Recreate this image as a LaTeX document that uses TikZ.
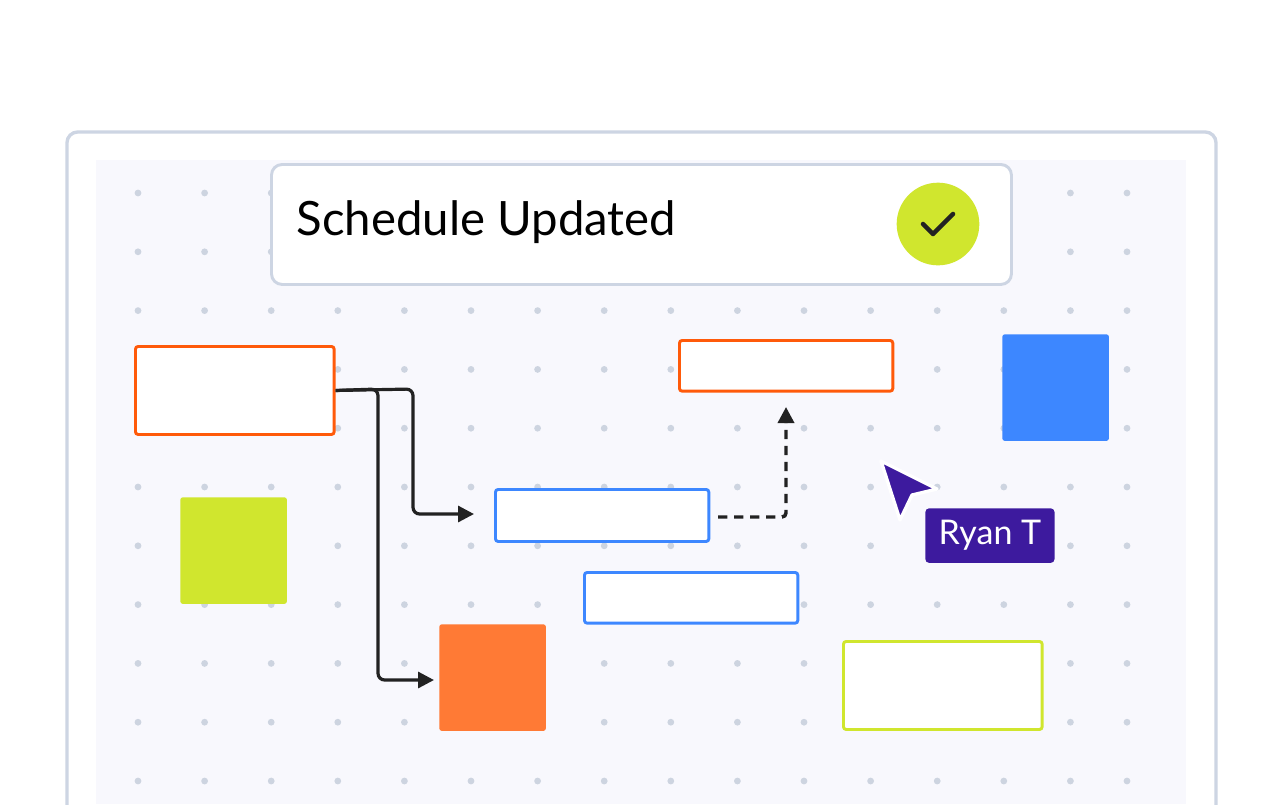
\documentclass[tikz,border=0pt]{standalone}
\usepackage{fontspec}
\setmainfont{Lato}
\usetikzlibrary{arrows.meta}
\definecolor{frame}{HTML}{CDD5E3}
\definecolor{canvas}{HTML}{F8F8FD}
\definecolor{dotc}{HTML}{CDD4E0}
\definecolor{orng}{HTML}{FF5A0A}
\definecolor{orngf}{HTML}{FF7A35}
\definecolor{blu}{HTML}{3D87FF}
\definecolor{lime}{HTML}{D0E62E}
\definecolor{purp}{HTML}{3D1A9E}
\definecolor{ink}{HTML}{222222}
\tikzset{
  box/.style={draw, line width=2.2pt, rounded corners=2pt, fill=white, inner sep=0pt, anchor=north west},
  sq/.style={rounded corners=2pt, inner sep=0pt, anchor=north west, minimum width=80pt, minimum height=80pt},
  conn/.style={draw=ink, line width=2.4pt, rounded corners=5pt, -{Triangle[length=12pt,width=12pt]}},
}
\begin{document}
\begin{tikzpicture}[x=0.75pt,y=-0.75pt]
\useasboundingbox (0,0) rectangle (1280,804);
\fill[white] (0,0) rectangle (1280,804);
\draw[frame, line width=2.5pt, fill=white, rounded corners=8pt] (67,132) -- (67,830) -- (1216,830) -- (1216,132) -- cycle;
\fill[canvas] (96,160) rectangle (1186,804);
\foreach \j in {0,...,10}{
  \foreach \i in {0,...,14}{\fill[dotc] (138+66.6*\i,193+58.8*\j) circle (3.4);}
  \fill[dotc] (1127,193+58.8*\j) circle (3.4);
}
% toast
\node[box, draw=frame, line width=2.2pt, rounded corners=8pt, minimum width=555pt, minimum height=90pt] (toast) at (270,163) {};
\node[anchor=west, font=\fontsize{35.5}{40}\selectfont, text=black] (title) at (292,222) {Schedule Updated};
\node[circle, fill=lime, minimum size=62pt, inner sep=0pt] (ok) at (938,224) {};
\draw[ink, line width=3.4pt, line cap=round, line join=round] (923,224) -- (933,234) -- (953,214);
% boxes
\node[box, draw=orng, minimum width=149pt, minimum height=66pt] (o1) at (134,345) {};
\node[box, draw=orng, minimum width=160pt, minimum height=38pt] (o2) at (678,339) {};
\node[sq, fill=blu] (bsq) at (1002,334) {};
\node[sq, fill=lime] (lsq) at (180,497) {};
\node[box, draw=blu, minimum width=160pt, minimum height=39pt] (b1) at (494,488) {};
\node[box, draw=blu, minimum width=160pt, minimum height=38pt] (b2) at (583,571) {};
\node[sq, fill=orngf] (osq) at (439,624) {};
\node[box, draw=lime, minimum width=149pt, minimum height=66pt] (l1) at (842,640) {};
% connectors
\coordinate (s) at (o1.east);
\coordinate (t1) at (474,514);
\coordinate (t2) at (434,680);
\draw[conn] (s) -- (413,389) -- (413,514) -- (t1);
\draw[conn] (s) -- (378,389) -- (378,680) -- (t2);
\coordinate (d0) at (718,517);
\coordinate (d1) at (786,407);
\draw[ink, line width=2.6pt, dash pattern=on 7pt off 5pt, rounded corners=3pt, -{Triangle[length=12pt,width=12pt]}] (d0) -- (786,517) -- (d1);
% cursor
\draw[white, line width=2.5pt, fill=purp, line join=round] (881,461) -- (937,489) -- (912,495) -- (900,520) -- cycle;
\node[fill=purp, rounded corners=3pt, anchor=north west, minimum width=97pt, minimum height=41pt, inner sep=0pt] (tag) at (925,508) {};
\node[text=white, font=\fontsize{25.5}{30}\selectfont] (name) at (tag.center) {Ryan T};
\end{tikzpicture}
\end{document}
